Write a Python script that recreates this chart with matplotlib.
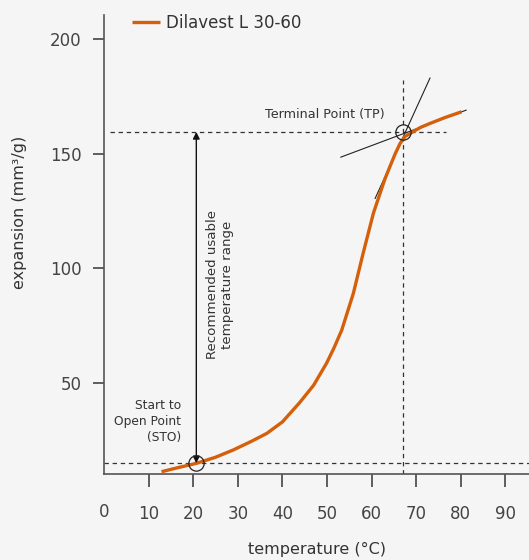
import numpy as np
import matplotlib
matplotlib.use('Agg')
import matplotlib.pyplot as plt

plt.rcParams.update({'font.family': 'DejaVu Sans', 'text.color': '#333333',
                     'axes.labelcolor': '#333333', 'xtick.color': '#444444', 'ytick.color': '#444444'})

# data
temp = [12.9, 16, 20.8, 25, 29, 33, 36.5, 40, 43.9, 47, 49.9, 51.5, 53.3, 55.9, 58.1, 60.4,
        61.9, 63, 64.1, 65.3, 66.4, 67.5, 69.3, 71, 73.1, 76.5, 80.2]
expn = [11.3, 12.8, 15, 17.6, 20.8, 24.5, 28, 33, 41.5, 49, 58.6, 65, 73, 89, 106.5, 124,
        132.7, 139, 144.3, 150, 154.5, 157.5, 159.6, 161.5, 163.2, 165.8, 168.3]
sto = (20.7, 15.0)
tp = (67.1, 159.5)
tan_steep = ([60.8, 73.1], [130.5, 183.0])
tan_flat = ([53.1, 81.2], [148.5, 169.0])
xticks = [10, 20, 30, 40, 50, 60, 70, 80, 90]
yticks = [50, 100, 150, 200]
orange = '#d4600c'

fig = plt.figure(figsize=(5.29, 5.6), dpi=100, facecolor='#f5f5f5')
ax = fig.add_axes([104/529, 1-474/560, 1-104/529, (474-15)/560])
ax.set_facecolor('#f5f5f5')
ax.set_xlim(0, 95.3); ax.set_ylim(10.3, 210.5)
for s in ('top', 'right'): ax.spines[s].set_visible(False)
for s in ('left', 'bottom'): ax.spines[s].set_color('#555555'); ax.spines[s].set_linewidth(1.2)

ax.plot(temp, expn, color=orange, lw=2.4, solid_capstyle='butt', solid_joinstyle='round',
        label='Dilavest L 30-60', zorder=3)

dash = dict(color='#333333', lw=0.9, ls=(0, (3.5, 3)))
ax.plot([0, 95.3], [sto[1], sto[1]], **dash)
ax.plot([1.3, 76.7], [tp[1], tp[1]], **dash)
ax.plot([tp[0], tp[0]], [10.3, 182], **dash)
ax.plot(*tan_steep, color='#222222', lw=0.8)
ax.plot(*tan_flat, color='#222222', lw=0.8)
ax.plot(*sto, marker='o', ms=11, mfc='none', mec='#222222', mew=0.9, zorder=4)
ax.plot(*tp, marker='o', ms=11, mfc='none', mec='#222222', mew=0.9, zorder=4)

ax.annotate('', xy=(sto[0], tp[1]), xytext=(sto[0], sto[1]),
            arrowprops=dict(arrowstyle='<|-|>', color='#111111', lw=1.0, mutation_scale=10, shrinkA=0, shrinkB=0))
ax.text(26.1, 93, 'Recommended usable\ntemperature range', rotation=90, ha='center', va='center',
        fontsize=9.6, multialignment='center')
ax.text(63, 167, 'Terminal Point (TP)', ha='right', va='center', fontsize=9.2)
ax.text(17.3, 33, 'Start to\nOpen Point\n(STO)', ha='right', va='center', fontsize=8.8,
        multialignment='right', linespacing=1.3)

ax.set_xticks(xticks); ax.set_yticks(yticks)
ax.tick_params(axis='x', length=9, width=1.2, pad=13, labelsize=12)
ax.tick_params(axis='y', length=8, width=1.2, pad=8, labelsize=12)
ax.text(0, -0.082, '0', transform=ax.get_xaxis_transform(), ha='center', va='center', fontsize=12, color='#444444')
ax.set_xlabel('temperature (°C)', fontsize=11.5, labelpad=14)
ax.set_ylabel('expansion (mm³/g)', fontsize=11.5)
ax.yaxis.set_label_coords(-0.182, 0.57)

ax.legend(loc='upper left', bbox_to_anchor=(0.03, 1.035), frameon=False, fontsize=12,
          handlelength=1.7, handletextpad=0.35)

fig.savefig('out.png', dpi=100, facecolor=fig.get_facecolor())
